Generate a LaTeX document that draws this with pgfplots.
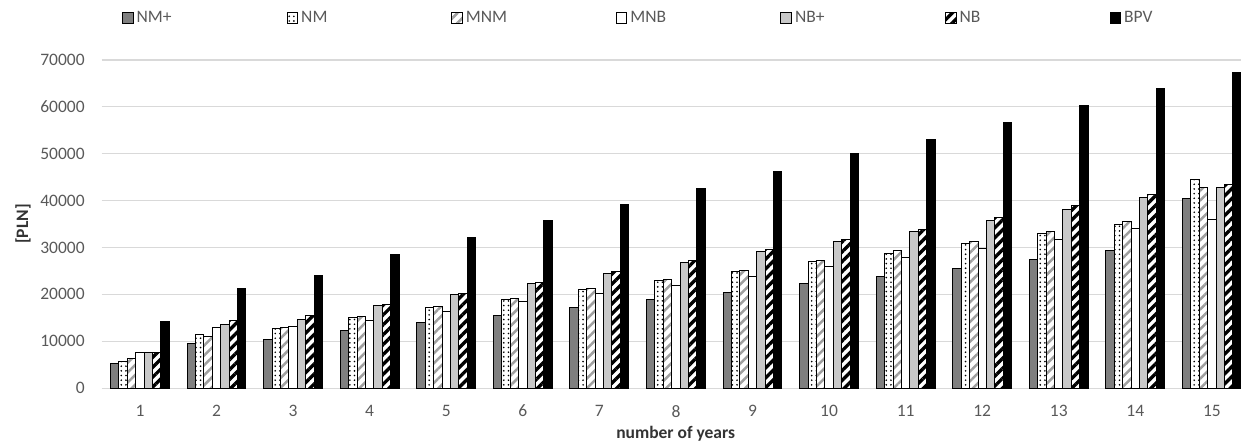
\documentclass[border=0pt]{standalone}
\usepackage{fontspec}
\setmainfont{Carlito}
\usepackage{pgfplots}
\pgfplotsset{compat=1.18}
\usepackage{pgfplotstable}
\usetikzlibrary{patterns,patterns.meta}
\definecolor{tickgray}{HTML}{595959}
\definecolor{gridgray}{HTML}{D9D9D9}
\definecolor{darkbar}{HTML}{7F7F7F}
\definecolor{lightbar}{HTML}{C8C8C8}
\definecolor{stripegray}{HTML}{A0A0A0}

\pgfplotstableread{
x nmp nm mnm mnb nbp nb bpv
1 5200 5700 6400 7700 7700 7700 14200
2 9600 11400 11100 12900 13500 14400 21200
3 10300 12700 12900 13200 14700 15500 24000
4 12300 15000 15300 14500 17700 17900 28500
5 14000 17200 17400 16300 19900 20100 32200
6 15600 18900 19100 18400 22300 22500 35800
7 17200 21000 21200 20200 24400 24900 39200
8 18900 22900 23100 22000 26700 27200 42500
9 20500 24800 25100 23800 29100 29500 46200
10 22300 27000 27200 25900 31300 31800 50000
11 23800 28800 29300 27900 33400 33900 53100
12 25600 30800 31300 29800 35700 36500 56700
13 27400 32900 33400 31800 38100 38900 60200
14 29300 35000 35500 34000 40700 41200 64000
15 40400 44600 42700 36000 42700 43500 67400
}\datatable

\begin{document}
\fontsize{10.5}{12.6}\selectfont
\begin{tikzpicture}
\begin{axis}[
  name=ax,
  scale only axis,
  width=683.9pt, height=197pt,
  xmin=0.5, xmax=15.38, ymin=0, ymax=70000,
  enlargelimits=false,
  ybar=0pt, bar width=0.11,
  xtick={1,...,15}, ytick={0,10000,...,70000},
  scaled y ticks=false,
  /pgf/number format/1000 sep={},
  /pgf/number format/assume math mode=true,
  major tick length=0pt,
  axis line style={draw=none},
  ymajorgrids, grid style={gridgray, line width=0.7pt},
  tick label style={text=tickgray},
  yticklabel style={xshift=-6.5pt},
  xticklabel style={yshift=-6.5pt},
  xlabel={\textbf{number of years}},
  ylabel={\textbf{[PLN]}},
  every axis x label/.style={at={(rel axis cs:0.5,0)}, anchor=base, yshift=-30.4pt, xshift=2.6pt, text=black!80},
  every axis y label/.style={at={(rel axis cs:0,0.5)}, xshift=-47.2pt, anchor=center, rotate=90, text=black!80},
  legend columns=7,
  legend style={draw=none, fill=none, inner sep=0pt, outer sep=0pt,
    at={(rel axis cs:0,1)}, anchor=west, xshift=12.2pt, yshift=25.2pt,
    nodes={inner xsep=1.8pt, text width=88.2pt, align=left, text=tickgray}},
  every axis plot post/.append style={
    legend image code/.code={\draw[#1, line width=0.6pt] (0pt,-3.2pt) rectangle (6.4pt,3.2pt);}},
]
\addplot[draw=black, line width=0.6pt, fill=darkbar] table[x=x,y=nmp]{\datatable};
\addlegendentry{NM+}
\addplot[draw=black, line width=0.6pt, fill=white, postaction={pattern={Dots[radius=0.55pt,distance=2.8pt]}, pattern color=black}] table[x=x,y=nm]{\datatable};
\addlegendentry{NM}
\addplot[draw=black, line width=0.6pt, fill=white, postaction={pattern={Lines[angle=45,distance=4.2pt,line width=1.5pt]}, pattern color=stripegray}] table[x=x,y=mnm]{\datatable};
\addlegendentry{MNM}
\addplot[draw=black, line width=0.6pt, fill=white] table[x=x,y=mnb]{\datatable};
\addlegendentry{MNB}
\addplot[draw=black, line width=0.6pt, fill=lightbar] table[x=x,y=nbp]{\datatable};
\addlegendentry{NB+}
\addplot[draw=black, line width=0.6pt, fill=white, postaction={pattern={Lines[angle=45,distance=4.2pt,line width=2pt]}, pattern color=black}] table[x=x,y=nb]{\datatable};
\addlegendentry{NB}
\addplot[draw=black, line width=0.6pt, fill=black] table[x=x,y=bpv]{\datatable};
\addlegendentry{BPV}
\end{axis}
\pgfresetboundingbox
\path[use as bounding box] ([xshift=-61.02pt, yshift=-31.62pt]ax.south west) rectangle ([yshift=36pt]ax.north east);
\end{tikzpicture}
\end{document}
